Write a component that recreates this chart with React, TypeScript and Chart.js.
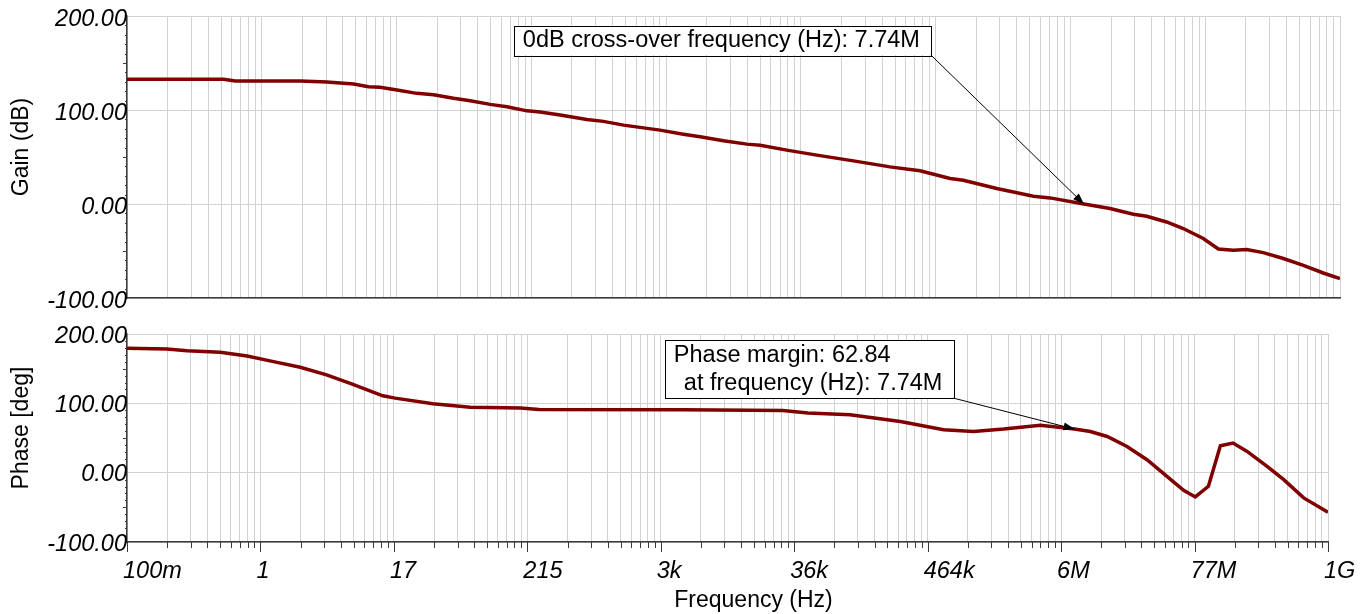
import React, { useEffect, useRef } from 'react';
import { Chart, registerables } from 'chart.js';

Chart.register(...registerables);

// ---------------- data ----------------
const xTickLabels = ['100m', '1', '17', '215', '3k', '36k', '464k', '6M', '77M', '1G'];
const freqMin = 0.1;
const freqMax = 1e9;

const gainFreq = [
  0.1, 0.625, 0.782, 2.68, 4.45, 7.38, 9.8, 12.2, 16.8, 24.5, 33.7, 49.2, 67.5, 98.6, 135.5, 198, 255, 372,
  618, 847, 1240, 2480, 3860, 5310, 8260, 12900, 16600, 27500, 48600, 97500, 195000, 345000, 611000, 785000,
  1.48e6, 2.97e6, 4.07e6, 7.74e6, 1.27e7, 1.98e7, 2.55e7, 3.72e7, 5.1e7, 7.46e7, 9.93e7, 1.32e8, 1.7e8,
  2.33e8, 3.41e8, 4.99e8, 7.28e8, 1e9,
];
const gainDb = [
  132.6, 132.6, 130.8, 130.8, 129.7, 127.6, 124.7, 124.1, 121.2, 117.7, 116.2, 112.4, 109.8, 106.0, 103.4, 99.1,
  97.8, 94.6, 90.0, 87.9, 83.9, 78.6, 74.3, 71.5, 67.2, 63.7, 62.6, 57.3, 52.0, 45.9, 39.5, 35.3, 27.2, 25.3,
  16.5, 8.3, 6.5, 0, -4.8, -10.9, -13.0, -19.1, -26.1, -36.7, -47.8, -49.2, -48.5, -51.7, -58.0, -65.2, -73.4,
  -79.3,
];

const phaseFreq = [
  0.1, 0.215, 0.316, 0.598, 1.0, 1.66, 2.77, 4.59, 7.41, 13.5, 17.1, 35.2, 72.1, 188, 270, 4250, 28800, 46700,
  105000, 275000, 630000, 1.12e6, 1.99e6, 4.03e6, 7.74e6, 1.05e7, 1.45e7, 2.12e7, 3.11e7, 4.56e7, 6.28e7,
  7.85e7, 1.01e8, 1.27e8, 1.62e8, 2.12e8, 3.11e8, 4.28e8, 6.27e8, 1e9,
];
const phaseDeg = [
  179.4, 178.4, 176, 173.7, 168.3, 160.1, 152.1, 141, 128.1, 110.8, 107.5, 99.3, 94.5, 93.1, 91.1, 90.6, 89.6,
  85.9, 83.5, 73.8, 61.9, 59.4, 62.9, 68.5, 63, 59.4, 52.2, 37.8, 18.7, -5.4, -25.5, -35, -19.7, 38.8, 42.7,
  30.6, 9, -10.1, -36.4, -57.1,
];

const yMin = -100;
const yMax = 200;
const yStep = 100;

const crossoverFreq = 7.74e6;
const crossoverGain = 0;
const phaseMargin = 62.84;
const gainNote = ['0dB cross-over frequency (Hz): 7.74M'];
const phaseNote = ['Phase margin: 62.84', 'at frequency (Hz): 7.74M'];

// ---------------- styles ----------------
const FONT = '"Liberation Sans", Arial, sans-serif';
const GRID = '#d2d2d2';
const AXIS = '#3a3a3a';
const LINE = '#800000';

function buildLogTicks(axis: any) {
  const lo = Math.log10(freqMin);
  const hi = Math.log10(freqMax);
  const n = xTickLabels.length - 1;
  const step = (hi - lo) / n;
  const ticks: any[] = [];
  for (let i = 0; i < n; i++) {
    for (let k = 1; k <= 9; k++) {
      ticks.push({ value: Math.pow(10, lo + step * (i + Math.log10(k))), major: k === 1 });
    }
  }
  ticks.push({ value: freqMax, major: true });
  axis.ticks = ticks;
}

function xScale(showLabels: boolean, height: number) {
  return {
    type: 'logarithmic',
    min: freqMin,
    max: freqMax,
    afterBuildTicks: buildLogTicks,
    afterFit: (s: any) => {
      s.height = height;
      s.paddingLeft = 0;
      s.paddingRight = 0;
    },
    grid: { color: GRID, lineWidth: 1, drawTicks: false },
    border: { color: AXIS, width: 1.5 },
    ticks: {
      display: showLabels,
      autoSkip: false,
      maxRotation: 0,
      minRotation: 0,
      align: 'start',
      padding: 15,
      labelOffset: -4,
      color: '#000',
      font: { family: FONT, size: 23.5, style: 'italic' },
      callback: (_v: any, idx: number) => (idx % 9 === 0 ? xTickLabels[idx / 9] : ''),
    },
  };
}

function yScale(labelOffset: number) {
  return {
    min: yMin,
    max: yMax,
    afterFit: (s: any) => {
      s.width = 127;
      s.paddingTop = 0;
      s.paddingBottom = 0;
    },
    grid: { color: GRID, lineWidth: 1, drawTicks: false },
    border: { color: AXIS, width: 1.5 },
    ticks: {
      stepSize: yStep,
      padding: 0,
      labelOffset,
      color: '#000',
      font: { family: FONT, size: 23.5, style: 'italic' },
      callback: (v: any) => Number(v).toFixed(2),
    },
  };
}

function decoPlugin(opts: {
  yTitle: string;
  xTitle?: string;
  xTicks: boolean;
  note: string[];
  target: (c: any) => { x: number; y: number };
  corner: { dx: number; dy: number };
  indent2: number;
}) {
  return {
    id: 'deco',
    afterDraw(chart: any) {
      const ctx = chart.ctx as CanvasRenderingContext2D;
      const a = chart.chartArea;
      const xs = chart.scales.x;
      const ys = chart.scales.y;
      ctx.save();
      // tick marks
      ctx.strokeStyle = AXIS;
      ctx.lineWidth = 1;
      ctx.beginPath();
      if (opts.xTicks) {
        xs.ticks.forEach((t: any, i: number) => {
          const px = Math.round(xs.getPixelForValue(t.value)) + 0.5;
          const len = i % 9 === 0 ? 10 : 6;
          ctx.moveTo(px, a.bottom);
          ctx.lineTo(px, a.bottom + len);
        });
      }
      for (let v = yMin; v <= yMax; v += 10) {
        if (v % 100 === 0) continue;
        const py = Math.round(ys.getPixelForValue(v)) + 0.5;
        const len = v % 50 === 0 ? 4 : 2;
        ctx.moveTo(a.left, py);
        ctx.lineTo(a.left - len, py);
      }
      ctx.stroke();

      // titles
      ctx.fillStyle = '#000';
      ctx.font = `23px ${FONT}`;
      ctx.textAlign = 'center';
      ctx.textBaseline = 'middle';
      ctx.save();
      ctx.translate(22, (a.top + a.bottom) / 2 - 10);
      ctx.rotate(-Math.PI / 2);
      ctx.fillText(opts.yTitle, 0, 0);
      ctx.restore();
      if (opts.xTitle) {
        ctx.fillText(opts.xTitle, (a.left + a.right) / 2 + 26, chart.height - 13);
      }

      // annotation
      const tip = opts.target(chart);
      const cx = tip.x + opts.corner.dx;
      const cy = tip.y + opts.corner.dy;
      ctx.font = `23.5px ${FONT}`;
      const lineH = 28.5;
      let w = 0;
      opts.note.forEach((s, i) => {
        w = Math.max(w, ctx.measureText(s).width + (i > 0 ? opts.indent2 : 0));
      });
      const bw = w + 20;
      const bh = lineH * opts.note.length + 1;
      const bx = cx - bw;
      const by = cy - bh;
      ctx.fillStyle = '#fff';
      ctx.fillRect(bx, by, bw, bh);
      ctx.strokeStyle = '#000';
      ctx.lineWidth = 1;
      ctx.strokeRect(Math.round(bx) + 0.5, Math.round(by) + 0.5, Math.round(bw), Math.round(bh));
      ctx.fillStyle = '#000';
      ctx.textAlign = 'left';
      opts.note.forEach((s, i) => {
        ctx.fillText(s, bx + 9 + (i > 0 ? opts.indent2 : 0), by + lineH / 2 + 1 + i * lineH);
      });
      // arrow
      ctx.beginPath();
      ctx.moveTo(cx, cy);
      ctx.lineTo(tip.x, tip.y);
      ctx.stroke();
      const ang = Math.atan2(tip.y - cy, tip.x - cx);
      const L = 11;
      const H = 4;
      ctx.beginPath();
      ctx.moveTo(tip.x, tip.y);
      ctx.lineTo(tip.x - L * Math.cos(ang) + H * Math.sin(ang), tip.y - L * Math.sin(ang) - H * Math.cos(ang));
      ctx.lineTo(tip.x - L * Math.cos(ang) - H * Math.sin(ang), tip.y - L * Math.sin(ang) + H * Math.cos(ang));
      ctx.closePath();
      ctx.fill();
      ctx.restore();
    },
  };
}

function series(fs: number[], vs: number[]) {
  return fs.map((f, i) => ({ x: f, y: vs[i] }));
}

export default function App() {
  const topRef = useRef<HTMLCanvasElement>(null);
  const botRef = useRef<HTMLCanvasElement>(null);

  useEffect(() => {
    const common: any = {
      responsive: true,
      maintainAspectRatio: false,
      animation: false,
      devicePixelRatio: 1,
      plugins: { legend: { display: false }, tooltip: { enabled: false } },
    };
    const top = new Chart(topRef.current as HTMLCanvasElement, {
      type: 'line',
      data: {
        datasets: [
          {
            data: series(gainFreq, gainDb),
            borderColor: LINE,
            borderWidth: 3.5,
            pointRadius: 0,
            tension: 0,
            fill: false,
          },
        ],
      },
      options: {
        ...common,
        layout: { padding: { top: 16, right: 26, left: 0, bottom: 0 } },
        scales: { x: xScale(false, 16), y: yScale(3) },
      } as any,
      plugins: [
        decoPlugin({
          yTitle: 'Gain (dB)',
          xTicks: false,
          note: gainNote,
          target: (c: any) => ({
            x: c.scales.x.getPixelForValue(crossoverFreq),
            y: c.scales.y.getPixelForValue(crossoverGain),
          }),
          corner: { dx: -153, dy: -149 },
          indent2: 0,
        }) as any,
      ],
    });
    const bot = new Chart(botRef.current as HTMLCanvasElement, {
      type: 'line',
      data: {
        datasets: [
          {
            data: series(phaseFreq, phaseDeg),
            borderColor: LINE,
            borderWidth: 3.5,
            pointRadius: 0,
            tension: 0,
            fill: false,
          },
        ],
      },
      options: {
        ...common,
        layout: { padding: { top: 20, right: 38, left: 0, bottom: 0 } },
        scales: { x: xScale(true, 72), y: yScale(2) },
      } as any,
      plugins: [
        decoPlugin({
          yTitle: 'Phase [deg]',
          xTitle: 'Frequency (Hz)',
          xTicks: true,
          note: phaseNote,
          target: (c: any) => ({
            x: c.scales.x.getPixelForValue(crossoverFreq),
            y: c.scales.y.getPixelForValue(phaseMargin),
          }),
          corner: { dx: -121, dy: -31 },
          indent2: 10,
        }) as any,
      ],
    });
    return () => {
      top.destroy();
      bot.destroy();
    };
  }, []);

  return (
    <div style={{ position: 'fixed', left: 0, top: 0, width: 1366, height: 614, background: '#fff' }}>
      <div style={{ position: 'absolute', left: 0, top: 0, width: 1366, height: 314 }}>
        <canvas ref={topRef} />
      </div>
      <div style={{ position: 'absolute', left: 0, top: 314, width: 1366, height: 300 }}>
        <canvas ref={botRef} />
      </div>
    </div>
  );
}
